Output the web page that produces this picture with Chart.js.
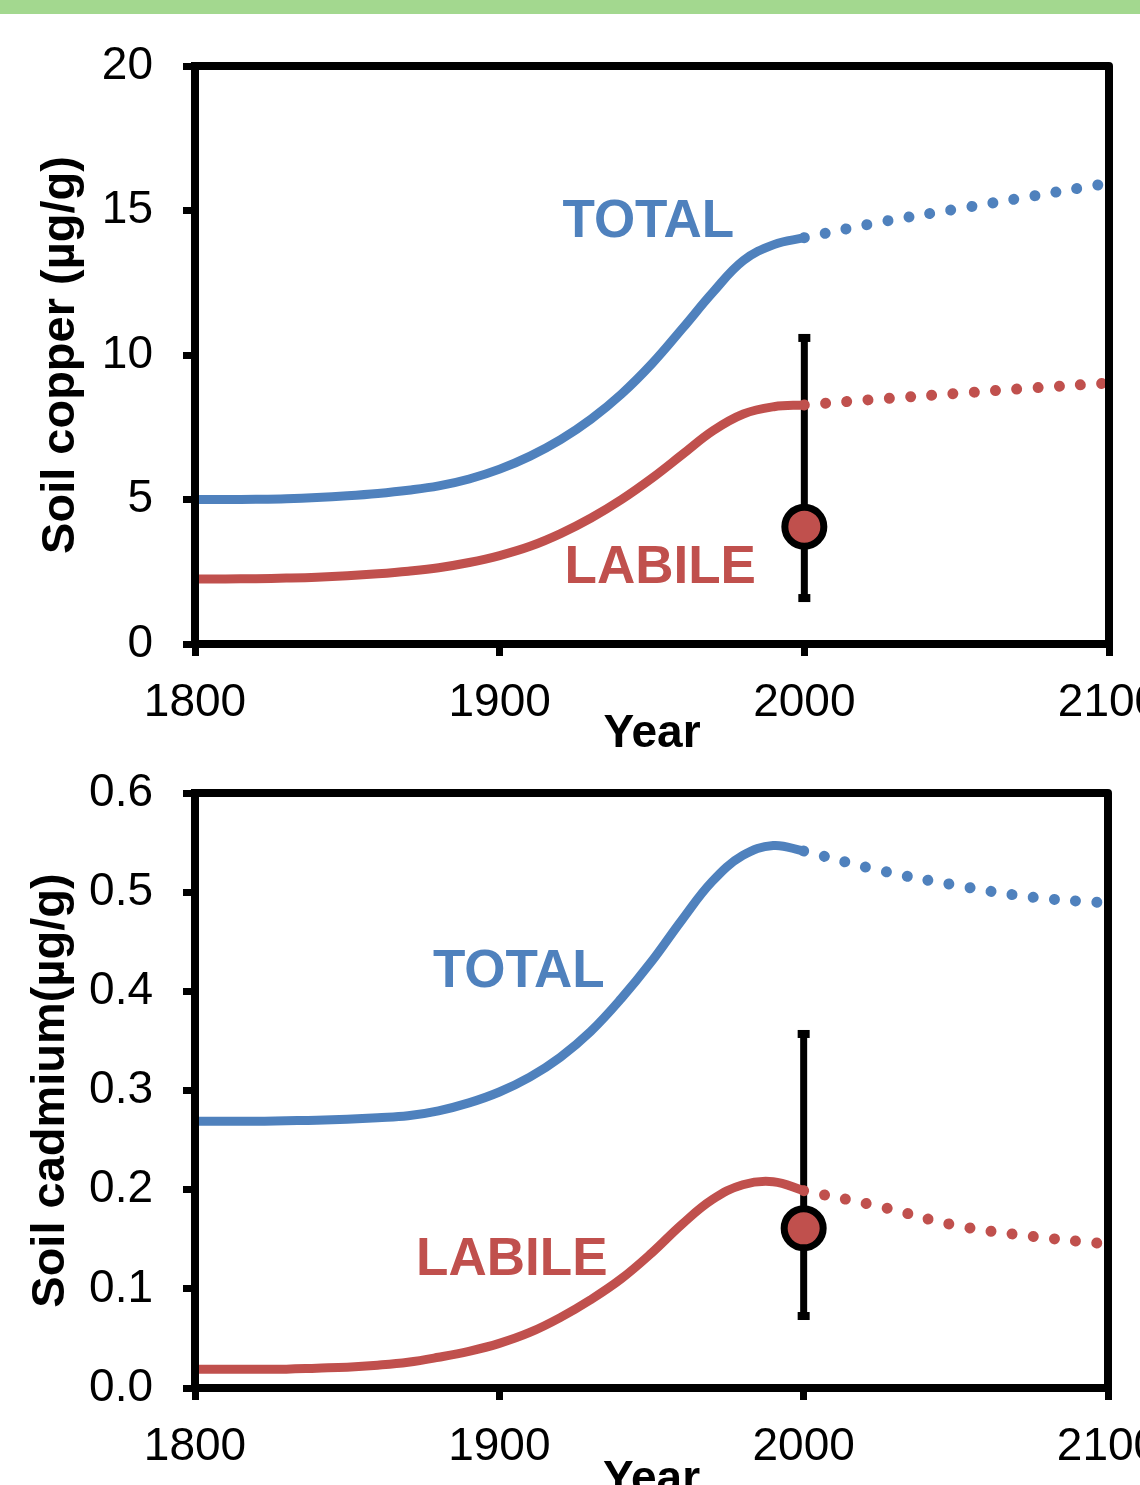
<!DOCTYPE html>
<html>
<head>
<meta charset="utf-8">
<script src="https://cdn.jsdelivr.net/npm/chart.js@4.4.1/dist/chart.umd.min.js"></script>
<style>
html, body { margin: 0; padding: 0; background: #fff; width: 1140px; height: 1485px; overflow: hidden; position: relative; }
#faixa { position: absolute; left: 0; top: 0; width: 1140px; height: 14px; background: #a3d88f; }
#cobre { position: absolute; left: 0; top: 14px; }
#cadmio { position: absolute; left: 0; top: 764px; }
</style>
</head>
<body>
<div id="faixa"></div>
<canvas id="cobre" width="1200" height="750"></canvas>
<canvas id="cadmio" width="1200" height="760"></canvas>
<script>
// Anos do histórico (linha cheia) e da projeção (pontilhada)
const anosHist = [1800, 1810, 1820, 1830, 1840, 1850, 1860, 1870, 1880, 1890, 1900,
                  1910, 1920, 1930, 1940, 1950, 1960, 1970, 1980, 1990, 2000];
const anosProj = [2000, 2025, 2050, 2075, 2100];
const ticksAno = [1800, 1900, 2000, 2100];

// Cobre (µg/g)
const cobreTotal = [5.0, 5.0, 5.01, 5.03, 5.07, 5.13, 5.21, 5.32, 5.47, 5.71, 6.05,
                    6.5, 7.07, 7.78, 8.65, 9.7, 10.92, 12.17, 13.27, 13.82, 14.06];
const cobreLabil = [2.25, 2.25, 2.26, 2.28, 2.31, 2.36, 2.43, 2.52, 2.64, 2.82, 3.06,
                    3.38, 3.82, 4.36, 5.0, 5.74, 6.56, 7.38, 7.96, 8.21, 8.27];
const cobreTotalProj = [14.06, 14.6, 15.05, 15.5, 15.95];
const cobreLabilProj = [8.27, 8.48, 8.67, 8.86, 9.03];
const cobreMedido = [2000, 4.06];      // ano, valor
const cobreErro = [1.59, 10.59];       // mínimo, máximo
const ticksCobre = [0, 5, 10, 15, 20];

// Cádmio (µg/g)
const cadmioTotal = [0.269, 0.269, 0.269, 0.2695, 0.27, 0.271, 0.2725, 0.2745, 0.2795, 0.2875, 0.2985,
                     0.3135, 0.3335, 0.3595, 0.3925, 0.43, 0.472, 0.511, 0.537, 0.547, 0.5415];
const cadmioLabil = [0.019, 0.019, 0.019, 0.019, 0.02, 0.021, 0.023, 0.026, 0.031, 0.037, 0.045,
                     0.056, 0.071, 0.089, 0.11, 0.136, 0.165, 0.19, 0.205, 0.208, 0.199];
const cadmioTotalProj = [0.5415, 0.522, 0.507, 0.495, 0.489];
const cadmioLabilProj = [0.199, 0.183, 0.164, 0.153, 0.145];
const cadmioMedido = [2000, 0.161];
const cadmioErro = [0.0726, 0.357];
const ticksCadmio = [0, 0.1, 0.2, 0.3, 0.4, 0.5, 0.6];

const azul = '#4F81BD';
const vermelho = '#C0504D';
const fonte = "'Liberation Sans', Arial, sans-serif";

function pares(anos, valores) {
    return anos.map((x, i) => ({ x: x, y: valores[i] }));
}

// moldura preta em volta da área do gráfico
const moldura = {
    id: 'moldura',
    afterDatasetsDraw(chart) {
        const a = chart.chartArea;
        const ctx = chart.ctx;
        ctx.save();
        ctx.strokeStyle = '#000';
        ctx.lineWidth = 8;
        ctx.lineJoin = 'round';
        ctx.strokeRect(a.left, a.top, a.right - a.left, a.bottom - a.top);
        ctx.restore();
    }
};

// barra de erro do valor medido
const barraErro = {
    id: 'barraErro',
    beforeDatasetsDraw(chart, args, opts) {
        const x = chart.scales.x.getPixelForValue(opts.ano);
        const y1 = chart.scales.y.getPixelForValue(opts.min);
        const y2 = chart.scales.y.getPixelForValue(opts.max);
        const ctx = chart.ctx;
        ctx.save();
        ctx.strokeStyle = '#000';
        ctx.lineWidth = 7;
        ctx.beginPath();
        ctx.moveTo(x, y1);
        ctx.lineTo(x, y2);
        ctx.stroke();
        ctx.fillStyle = '#000';
        ctx.fillRect(x - 6, y1 - 4, 12, 8);
        ctx.fillRect(x - 6, y2 - 4, 12, 8);
        ctx.restore();
    }
};

// textos TOTAL / LABILE
const rotulos = {
    id: 'rotulos',
    afterDatasetsDraw(chart, args, opts) {
        const ctx = chart.ctx;
        ctx.save();
        ctx.font = 'bold 53px ' + fonte;
        ctx.textAlign = 'center';
        ctx.textBaseline = 'middle';
        opts.itens.forEach(r => {
            ctx.fillStyle = r.cor;
            ctx.fillText(r.texto, chart.scales.x.getPixelForValue(r.x), chart.scales.y.getPixelForValue(r.y));
        });
        ctx.restore();
    }
};

function configGrafico(d) {
    return {
        type: 'line',
        data: {
            datasets: [
                {
                    type: 'scatter',
                    data: [{ x: d.medido[0], y: d.medido[1] }],
                    pointRadius: 19.5,
                    pointBorderWidth: 7,
                    pointBackgroundColor: vermelho,
                    pointBorderColor: '#000',
                    order: 0
                },
                {
                    data: pares(anosHist, d.total),
                    borderColor: azul,
                    borderWidth: 9,
                    borderCapStyle: 'round',
                    pointRadius: 0,
                    tension: 0.4,
                    order: 2
                },
                {
                    data: pares(anosProj, d.totalProj),
                    borderColor: azul,
                    borderWidth: 11,
                    borderDash: [0.001, 21.3],
                    borderCapStyle: 'round',
                    pointRadius: 0,
                    tension: 0.4,
                    order: 2
                },
                {
                    data: pares(anosHist, d.labil),
                    borderColor: vermelho,
                    borderWidth: 9,
                    borderCapStyle: 'round',
                    pointRadius: 0,
                    tension: 0.4,
                    order: 1
                },
                {
                    data: pares(anosProj, d.labilProj),
                    borderColor: vermelho,
                    borderWidth: 11,
                    borderDash: [0.001, 21.3],
                    borderCapStyle: 'round',
                    pointRadius: 0,
                    tension: 0.4,
                    order: 1
                }
            ]
        },
        options: {
            responsive: false,
            animation: false,
            devicePixelRatio: 1,
            layout: { padding: { top: d.topo, right: d.direita, bottom: 0, left: 0 } },
            plugins: {
                legend: { display: false },
                tooltip: { enabled: false },
                barraErro: { ano: d.medido[0], min: d.erro[0], max: d.erro[1] },
                rotulos: { itens: d.rotulos }
            },
            scales: {
                x: {
                    type: 'linear',
                    min: 1800,
                    max: 2100,
                    afterBuildTicks: s => { s.ticks = ticksAno.map(v => ({ value: v })); },
                    afterFit: s => { s.height = d.alturaX; s.paddingLeft = 0; s.paddingRight = 0; },
                    ticks: {
                        color: '#000',
                        font: { family: fonte, size: 46 },
                        padding: 20,
                        maxRotation: 0,
                        callback: v => String(v)
                    },
                    grid: { drawOnChartArea: false, drawTicks: true, tickLength: 12, lineWidth: 7, color: '#000' },
                    border: { display: true, width: 8, color: '#000' },
                    title: {
                        display: true,
                        text: 'Year',
                        color: '#000',
                        font: { family: fonte, size: 46, weight: 'bold' },
                        padding: { top: 0, bottom: d.padTituloX }
                    }
                },
                y: {
                    min: d.ticksY[0],
                    max: d.ticksY[d.ticksY.length - 1],
                    afterBuildTicks: s => { s.ticks = d.ticksY.map(v => ({ value: v })); },
                    afterFit: s => { s.width = 195; s.paddingTop = 0; s.paddingBottom = 0; },
                    ticks: {
                        color: '#000',
                        font: { family: fonte, size: 46 },
                        padding: 30,
                        callback: v => v.toFixed(d.casas)
                    },
                    grid: { drawOnChartArea: false, drawTicks: true, tickLength: 12, lineWidth: 7, color: '#000' },
                    border: { display: true, width: 8, color: '#000' },
                    title: {
                        display: true,
                        text: d.tituloY,
                        color: '#000',
                        font: { family: fonte, size: 47, weight: 'bold' },
                        padding: { top: d.padTituloY, bottom: 0 }
                    }
                }
            }
        },
        plugins: [barraErro, moldura, rotulos]
    };
}

new Chart(document.getElementById('cobre'), configGrafico({
    total: cobreTotal, labil: cobreLabil,
    totalProj: cobreTotalProj, labilProj: cobreLabilProj,
    medido: cobreMedido, erro: cobreErro,
    ticksY: ticksCobre, casas: 0,
    tituloY: 'Soil copper (µg/g)',
    topo: 52, direita: 91, alturaX: 120, padTituloX: 2, padTituloY: 33,
    rotulos: [
        { texto: 'TOTAL', cor: azul, x: 1948.8, y: 14.6 },
        { texto: 'LABILE', cor: vermelho, x: 1952.7, y: 2.63 }
    ]
}));

new Chart(document.getElementById('cadmio'), configGrafico({
    total: cadmioTotal, labil: cadmioLabil,
    totalProj: cadmioTotalProj, labilProj: cadmioLabilProj,
    medido: cadmioMedido, erro: cadmioErro,
    ticksY: ticksCadmio, casas: 1,
    tituloY: 'Soil cadmium(µg/g)',
    topo: 29, direita: 92, alturaX: 136, padTituloX: 16, padTituloY: 23,
    rotulos: [
        { texto: 'TOTAL', cor: azul, x: 1906.4, y: 0.4195 },
        { texto: 'LABILE', cor: vermelho, x: 1904.1, y: 0.129 }
    ]
}));
</script>
</body>
</html>
